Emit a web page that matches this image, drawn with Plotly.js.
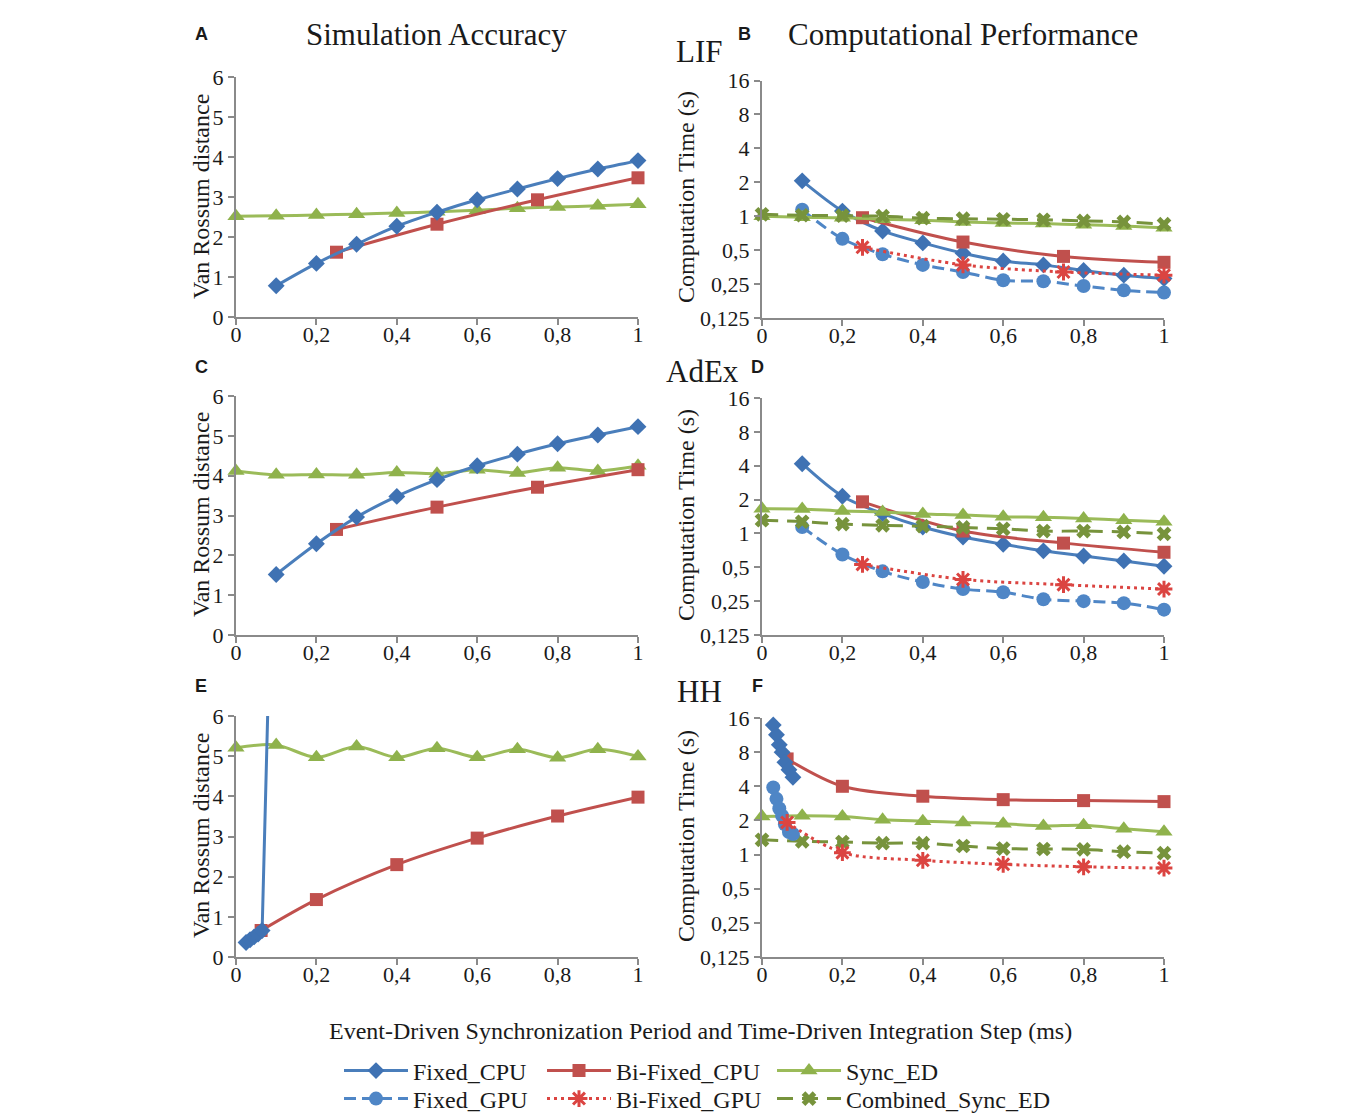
<!DOCTYPE html>
<html>
<head>
<meta charset="utf-8">
<script src="https://cdn.plot.ly/plotly-3.0.1.min.js"></script>
<style>html,body{margin:0;padding:0;background:#fff}#chart{width:1360px;height:1114px}</style>
</head>
<body>
<div id="chart"></div>
<script>
// ---------- data ----------
const xFixed = [0.1,0.2,0.3,0.4,0.5,0.6,0.7,0.8,0.9,1.0];
const xBi = [0.25,0.5,0.75,1.0];
const xSync = [0,0.1,0.2,0.3,0.4,0.5,0.6,0.7,0.8,0.9,1.0];
const xBiHH = [0.0625,0.2,0.4,0.6,0.8,1.0];
const xFixedHHacc = [0.025,0.035,0.045,0.055,0.065,0.08];
const xFixedHHtime = [0.028,0.036,0.043,0.05,0.057,0.067,0.077];

// LIF
const lifAccFixedCPU = [0.78,1.34,1.82,2.27,2.62,2.93,3.2,3.46,3.7,3.91];
const lifAccBiCPU = [1.62,2.32,2.93,3.48];
const lifAccSync = [2.52,2.53,2.55,2.57,2.6,2.63,2.67,2.72,2.75,2.78,2.82];
const lifTimeFixedCPU = [2.06,1.11,0.74,0.58,0.47,0.40,0.37,0.33,0.30,0.28];
const lifTimeFixedGPU = [1.14,0.63,0.46,0.37,0.32,0.27,0.265,0.24,0.22,0.21];
const lifTimeBiCPU = [0.97,0.59,0.44,0.39];
const lifTimeBiGPU = [0.53,0.37,0.32,0.30];
const lifTimeSync = [1.0,0.98,0.97,0.94,0.92,0.89,0.87,0.86,0.84,0.82,0.79];
const lifTimeComb = [1.04,1.02,1.01,1.0,0.96,0.95,0.94,0.93,0.91,0.89,0.85];

// AdEx
const adexAccFixedCPU = [1.52,2.29,2.96,3.48,3.9,4.25,4.54,4.8,5.02,5.23];
const adexAccBiCPU = [2.65,3.21,3.71,4.15];
const adexAccSync = [4.12,4.02,4.03,4.02,4.08,4.05,4.15,4.07,4.2,4.12,4.25];
const adexTimeFixedCPU = [4.17,2.14,1.5,1.14,0.93,0.80,0.70,0.63,0.57,0.51];
const adexTimeFixedGPU = [1.14,0.65,0.46,0.37,0.32,0.30,0.26,0.25,0.24,0.21];
const adexTimeBiCPU = [1.91,1.05,0.82,0.68];
const adexTimeBiGPU = [0.53,0.39,0.35,0.32];
const adexTimeSync = [1.66,1.65,1.58,1.55,1.49,1.46,1.41,1.39,1.36,1.31,1.27];
const adexTimeComb = [1.31,1.27,1.21,1.18,1.16,1.13,1.10,1.05,1.05,1.03,0.99];

// HH
const hhAccFixedCPU = [0.36,0.43,0.5,0.57,0.66,6.5];
const hhAccBiCPU = [0.66,1.43,2.3,2.96,3.51,3.98];
const hhAccSync = [5.21,5.28,4.97,5.24,4.97,5.2,4.97,5.17,4.96,5.17,4.99];
const hhTimeFixedCPU = [13.9,11.4,9.3,8.0,6.5,5.6,4.8];
const hhTimeFixedGPU = [3.9,3.1,2.55,2.2,1.85,1.58,1.52];
const hhTimeBiCPU = [6.97,4.0,3.27,3.05,2.99,2.93];
const hhTimeBiGPU = [1.92,1.04,0.89,0.82,0.78,0.76];
const hhTimeSync = [2.17,2.2,2.17,2.03,1.97,1.92,1.87,1.79,1.81,1.69,1.59];
const hhTimeComb = [1.35,1.31,1.29,1.26,1.26,1.19,1.13,1.12,1.11,1.06,1.03];

const logTickVals = [0.125,0.25,0.5,1,2,4,8,16];
const logTickText = ['0,125','0,25','0,5','1','2','4','8','16'];
const linTickText = ['0','0,2','0,4','0,6','0,8','1'];

// ---------- styles ----------
const SERIF = 'Liberation Serif, Times New Roman, serif';
const SANS = 'Liberation Sans, Arial, sans-serif';
const styles = {
  FixedCPU: {name:'Fixed_CPU', color:'#4a7ebb', mcolor:'#3f72b3', symbol:'diamond', dash:'solid', size:13, legend:'legend'},
  BiCPU:    {name:'Bi-Fixed_CPU', color:'#c0504d', mcolor:'#c0504d', symbol:'square', dash:'solid', size:13, legend:'legend2'},
  Sync:     {name:'Sync_ED', color:'#9bbb59', mcolor:'#8fb24c', symbol:'triangle-up', dash:'solid', size:15, legend:'legend3'},
  FixedGPU: {name:'Fixed_GPU', color:'#4f86c6', mcolor:'#4f86c6', symbol:'circle', dash:'12px,6px', size:14, legend:'legend4'},
  BiGPU:    {name:'Bi-Fixed_GPU', color:'#db4441', mcolor:'#db4441', symbol:'asterisk-open', dash:'3px,4px', size:14, legend:'legend5'},
  Comb:     {name:'Combined_Sync_ED', color:'#77933c', mcolor:'#77933c', symbol:'x', dash:'16px,9px', size:13, legend:'legend6'}
};

function tr(key, x, y, ax, showlegend, opts) {
  const s = styles[key];
  opts = opts || {};
  const marker = {symbol:s.symbol, size:s.size, color:s.mcolor};
  if (s.symbol === 'asterisk-open') marker.line = {color:s.mcolor, width:3};
  else marker.line = {width:0};
  return {
    type:'scatter', mode:'lines+markers', name:s.name, legend:s.legend,
    x:x, y:y, xaxis:'x'+(ax===1?'':ax), yaxis:'y'+(ax===1?'':ax),
    line:{color:s.color, width:3, dash:s.dash, shape: opts.linear ? 'linear' : 'spline', smoothing:0.9},
    marker:marker, showlegend:showlegend, cliponaxis: opts.clip ? true : false,
    hoverinfo:'x+y+name'
  };
}

const data = [
  // A
  tr('Sync', xSync, lifAccSync, 1, false),
  tr('BiCPU', xBi, lifAccBiCPU, 1, false),
  tr('FixedCPU', xFixed, lifAccFixedCPU, 1, false),
  // B (legend source)
  tr('FixedCPU', xFixed, lifTimeFixedCPU, 2, true),
  tr('FixedGPU', xFixed, lifTimeFixedGPU, 2, true),
  tr('BiCPU', xBi, lifTimeBiCPU, 2, true),
  tr('BiGPU', xBi, lifTimeBiGPU, 2, true),
  tr('Sync', xSync, lifTimeSync, 2, true),
  tr('Comb', xSync, lifTimeComb, 2, true),
  // C
  tr('Sync', xSync, adexAccSync, 3, false),
  tr('BiCPU', xBi, adexAccBiCPU, 3, false),
  tr('FixedCPU', xFixed, adexAccFixedCPU, 3, false),
  // D
  tr('FixedGPU', xFixed, adexTimeFixedGPU, 4, false),
  tr('BiGPU', xBi, adexTimeBiGPU, 4, false),
  tr('FixedCPU', xFixed, adexTimeFixedCPU, 4, false),
  tr('BiCPU', xBi, adexTimeBiCPU, 4, false),
  tr('Comb', xSync, adexTimeComb, 4, false),
  tr('Sync', xSync, adexTimeSync, 4, false),
  // E
  tr('Sync', xSync, hhAccSync, 5, false),
  tr('BiCPU', xBiHH, hhAccBiCPU, 5, false),
  tr('FixedCPU', xFixedHHacc, hhAccFixedCPU, 5, false, {linear:true, clip:true}),
  // F
  tr('Comb', xSync, hhTimeComb, 6, false),
  tr('Sync', xSync, hhTimeSync, 6, false),
  tr('BiCPU', xBiHH, hhTimeBiCPU, 6, false),
  tr('FixedCPU', xFixedHHtime, hhTimeFixedCPU, 6, false),
  tr('FixedGPU', xFixedHHtime, hhTimeFixedGPU, 6, false),
  tr('BiGPU', xBiHH, hhTimeBiGPU, 6, false)
];

// ---------- layout ----------
const W = 1360, H = 1114;
const px = v => v / W;
const py = v => 1 - v / H;
const axisCommon = {
  showline:true, linecolor:'#8a8a8a', linewidth:2, showgrid:false, zeroline:false,
  ticks:'outside', ticklen:6, tickwidth:2, tickcolor:'#8a8a8a',
  tickfont:{family:SERIF, size:22, color:'#1a1a1a'}, fixedrange:true, automargin:false
};
function xAx(dom, anchor) {
  return Object.assign({}, axisCommon, {domain:dom, anchor:anchor, range:[0,1],
    tickvals:[0,0.2,0.4,0.6,0.8,1], ticktext:linTickText, ticklabelstandoff:-9});
}
function yLin(dom, anchor) {
  return Object.assign({}, axisCommon, {domain:dom, anchor:anchor, range:[0,6], dtick:1, tick0:0});
}
function yLog(dom, anchor) {
  return Object.assign({}, axisCommon, {domain:dom, anchor:anchor, type:'log',
    range:[Math.log10(0.125), Math.log10(16)], tickvals:logTickVals, ticktext:logTickText});
}
const xL = [px(236), px(638)], xR = [px(762), px(1164)];
const r1L = [py(317), py(77)], r1R = [py(318), py(80.5)];
const r2L = [py(635), py(396)], r2R = [py(635), py(398)];
const r3L = [py(957), py(716)], r3R = [py(957), py(718)];

function ann(text, x, y, size, family, extra) {
  return Object.assign({text:text, x:px(x), y:py(y), xref:'paper', yref:'paper',
    xanchor:'center', yanchor:'middle', showarrow:false, borderpad:0,
    font:{family:family, size:size, color:'#1a1a1a'}}, extra || {});
}
const annotations = [
  ann('<b>A</b>', 201, 34, 18, SANS), ann('<b>B</b>', 744, 34, 18, SANS),
  ann('<b>C</b>', 201, 367, 18, SANS), ann('<b>D</b>', 757, 367, 18, SANS),
  ann('<b>E</b>', 201, 686, 18, SANS), ann('<b>F</b>', 757, 686, 18, SANS),
  ann('Simulation Accuracy', 436, 35, 31, SERIF),
  ann('Computational Performance', 963, 35, 31, SERIF),
  ann('LIF', 700, 51, 31, SERIF), ann('AdEx', 702, 371, 31, SERIF), ann('HH', 700, 691, 31, SERIF),
  ann('Van Rossum distance', 201, 197, 24, SERIF, {textangle:-90}),
  ann('Van Rossum distance', 201, 515, 24, SERIF, {textangle:-90}),
  ann('Van Rossum distance', 201, 836, 24, SERIF, {textangle:-90}),
  ann('Computation Time (s)', 686, 197, 24, SERIF, {textangle:-90}),
  ann('Computation Time (s)', 686, 515, 24, SERIF, {textangle:-90}),
  ann('Computation Time (s)', 686, 836, 24, SERIF, {textangle:-90}),
  ann('Event-Driven Synchronization Period and Time-Driven Integration Step (ms)', 701, 1031, 24, SERIF)
];

function leg(x, y) {
  return {x:px(x), y:py(y), xref:'paper', yref:'paper', xanchor:'left', yanchor:'middle',
    orientation:'v', bgcolor:'rgba(0,0,0,0)', borderwidth:0, itemwidth:64, tracegroupgap:0,
    font:{family:SERIF, size:24, color:'#1a1a1a'}, itemclick:false, itemdoubleclick:false};
}

const layout = {
  width:W, height:H, margin:{l:0, r:0, t:0, b:0, pad:0, autoexpand:false},
  paper_bgcolor:'#ffffff', plot_bgcolor:'rgba(0,0,0,0)',
  separators:', ',
  showlegend:true,
  xaxis: xAx(xL, 'y'),   yaxis: yLin(r1L, 'x'),
  xaxis2: xAx(xR, 'y2'), yaxis2: yLog(r1R, 'x2'),
  xaxis3: xAx(xL, 'y3'), yaxis3: yLin(r2L, 'x3'),
  xaxis4: xAx(xR, 'y4'), yaxis4: yLog(r2R, 'x4'),
  xaxis5: xAx(xL, 'y5'), yaxis5: yLin(r3L, 'x5'),
  xaxis6: xAx(xR, 'y6'), yaxis6: yLog(r3R, 'x6'),
  legend: leg(339, 1071), legend2: leg(542, 1071), legend3: leg(772, 1071),
  legend4: leg(339, 1099), legend5: leg(542, 1099), legend6: leg(772, 1099),
  annotations: annotations
};

Plotly.newPlot('chart', data, layout, {displayModeBar:false, responsive:false});
</script>
</body>
</html>
